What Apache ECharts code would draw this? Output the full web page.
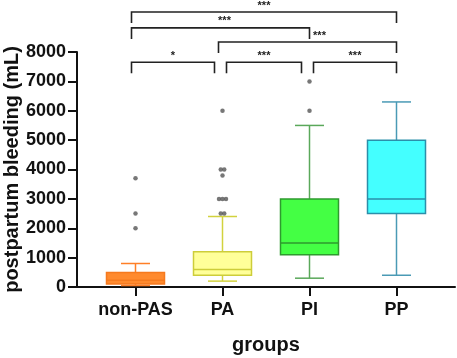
<!DOCTYPE html>
<html>
<head>
<meta charset="utf-8">
<script src="https://cdn.jsdelivr.net/npm/echarts@6/dist/echarts.min.js"></script>
<style>
  html, body { margin: 0; padding: 0; background: #fff; }
  #chart { width: 457px; height: 358px; }
</style>
</head>
<body>
<div id="chart"></div>
<script>
// groups and box statistics (mL)
var groups = ['non-PAS', 'PA', 'PI', 'PP'];
var whiskerLow = [50, 200, 300, 400];
var q1 = [100, 400, 1100, 2500];
var median = [230, 600, 1500, 3000];
var q3 = [490, 1200, 3000, 5000];
var whiskerHigh = [800, 2400, 5500, 6300];
var outliers = [
  [3700, 2500, 2000],
  [6000, 4000, 4000, 3800, 3000, 3000, 3000, 2500, 2500],
  [7000, 6000],
  []
];

// significance brackets
var sigPairs = [[0, 1], [1, 2], [2, 3], [1, 3], [0, 2], [0, 3]];
var sigHeights = [7650, 7650, 7650, 8340, 8820, 9360];
var sigLabels = ['*', '***', '***', '***', '***', '***'];
var labelNudge = [0, 0, 0, 12, 4, 0];

var fills = ['#ff8a2e', '#ffff99', '#44ff44', '#44ffff'];
var borders = ['#f57a1f', '#cdcd3a', '#2e9a2e', '#2b8faa'];
var whiskerColors = ['#ff7f27', '#d2d23e', '#5aa85a', '#4a9ab5'];

var font = 'Liberation Sans, Arial, sans-serif';

var myChart = echarts.init(document.getElementById('chart'));

var boxData = groups.map(function (g, i) {
  return [i, whiskerLow[i], q1[i], median[i], q3[i], whiskerHigh[i]];
});

var outlierData = [];
outliers.forEach(function (list, i) {
  var counts = {};
  list.forEach(function (v) { counts[v] = (counts[v] || 0) + 1; });
  var seen = {};
  list.forEach(function (v) {
    var k = counts[v];
    var j = seen[v] || 0;
    seen[v] = j + 1;
    outlierData.push({ value: [i, v], symbolOffset: [(j - (k - 1) / 2) * 3.5, 0] });
  });
});

var bracketData = sigPairs.map(function (p, i) {
  return [p[0], p[1], sigHeights[i], i];
});

function renderBox(params, api) {
  var i = api.value(0);
  var band = api.size([1, 0])[0];
  var xc = api.coord([i, 0])[0];
  var hw = band / 3, cw = band / 6;
  var yLo = api.coord([i, api.value(1)])[1];
  var yQ1 = api.coord([i, api.value(2)])[1];
  var yMed = api.coord([i, api.value(3)])[1];
  var yQ3 = api.coord([i, api.value(4)])[1];
  var yHi = api.coord([i, api.value(5)])[1];
  var wl = { stroke: whiskerColors[i], lineWidth: 1.5 };
  return {
    type: 'group',
    children: [
      { type: 'line', shape: { x1: xc, y1: yQ3, x2: xc, y2: yHi }, style: wl },
      { type: 'line', shape: { x1: xc, y1: yQ1, x2: xc, y2: yLo }, style: wl },
      { type: 'line', shape: { x1: xc - cw, y1: yHi, x2: xc + cw, y2: yHi }, style: wl },
      { type: 'line', shape: { x1: xc - cw, y1: yLo, x2: xc + cw, y2: yLo }, style: wl },
      { type: 'rect', shape: { x: xc - hw, y: yQ3, width: hw * 2, height: yQ1 - yQ3 },
        style: { fill: fills[i], stroke: borders[i], lineWidth: 1.5 } },
      { type: 'line', shape: { x1: xc - hw, y1: yMed, x2: xc + hw, y2: yMed },
        style: { stroke: borders[i], lineWidth: 1.5 } }
    ]
  };
}

function renderBracket(params, api) {
  var a = api.value(0), b = api.value(1), h = api.value(2), idx = api.value(3);
  var p1 = api.coord([a, h]);
  var p2 = api.coord([b, h]);
  var x1 = p1[0] - 4, x2 = p2[0];
  sigPairs.forEach(function (q, k) {
    if (k === idx || sigHeights[k] !== h) return;
    if (q[1] === a) x1 = p1[0] + 4;
    if (q[0] === b) x2 = p2[0] - 8;
  });
  var y = p1[1], drop = 11;
  return {
    type: 'group',
    children: [
      { type: 'polyline',
        shape: { points: [[x1, y + drop], [x1, y], [x2, y], [x2, y + drop]] },
        style: { stroke: '#222', lineWidth: 1.6, fill: null } },
      { type: 'text',
        style: { text: sigLabels[idx], x: (x1 + x2) / 2 + labelNudge[idx], y: y - 1, align: 'center',
          verticalAlign: 'bottom', fill: '#222', font: 'bold 11px ' + font } }
    ]
  };
}

var option = {
  animation: false,
  grid: [
    { left: 77, right: 2, top: 52, bottom: 71, outerBoundsMode: 'none' },
    { left: 92, right: 17, top: 52, bottom: 71, outerBoundsMode: 'none' }
  ],
  xAxis: [
    {
      type: 'value', gridIndex: 0, min: 0, max: 1,
      axisLine: { show: true, lineStyle: { color: '#111', width: 2 } },
      axisTick: { show: false },
      axisLabel: { show: false },
      splitLine: { show: false },
      name: 'groups', nameLocation: 'middle', nameGap: 48,
      nameTextStyle: { fontFamily: font, fontWeight: 'bold', fontSize: 20, color: '#111' }
    },
    {
      type: 'category', gridIndex: 1, data: groups,
      axisLine: { show: true, lineStyle: { color: 'rgba(0,0,0,0)' } },
      axisTick: { show: true, interval: 0, alignWithLabel: true, length: 9, lineStyle: { color: '#111', width: 2 } },
      axisLabel: { interval: 0, margin: 14, fontFamily: font, fontWeight: 'bold', fontSize: 18, color: '#111' }
    }
  ],
  yAxis: [
    {
      type: 'value', gridIndex: 0, min: 0, max: 8000, interval: 1000,
      axisLine: { show: true, lineStyle: { color: '#111', width: 2 } },
      axisTick: { show: true, length: 9, lineStyle: { color: '#111', width: 2 } },
      axisLabel: {
        margin: 11, fontFamily: font, fontWeight: 'bold', fontSize: 18, color: '#111',
        formatter: function (v) { return String(v); }
      },
      splitLine: { show: false },
      name: 'postpartum bleeding (mL)', nameLocation: 'middle', nameGap: 55,
      nameMoveOverlap: false,
      nameTextStyle: { fontFamily: font, fontWeight: 'bold', fontSize: 20, color: '#111' }
    },
    { type: 'value', gridIndex: 1, min: 0, max: 8000, show: false }
  ],
  series: [
    {
      type: 'custom', xAxisIndex: 1, yAxisIndex: 1,
      renderItem: renderBox, data: boxData, clip: false
    },
    {
      type: 'scatter', xAxisIndex: 1, yAxisIndex: 1,
      symbolSize: 4.5, itemStyle: { color: '#555' },
      data: outlierData
    },
    {
      type: 'custom', xAxisIndex: 1, yAxisIndex: 1,
      renderItem: renderBracket, data: bracketData, clip: false
    }
  ]
};

myChart.setOption(option);
</script>
</body>
</html>
